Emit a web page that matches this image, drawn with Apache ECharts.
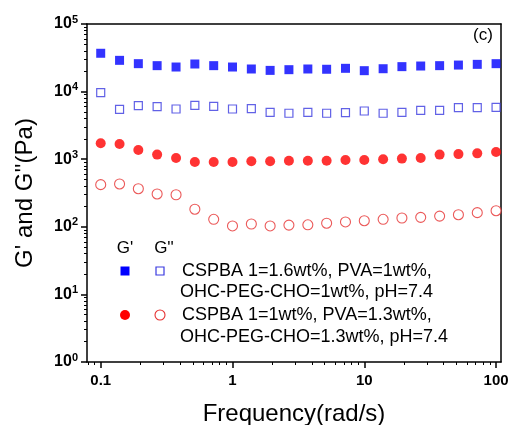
<!DOCTYPE html>
<html>
<head>
<meta charset="utf-8">
<script src="https://cdn.jsdelivr.net/npm/echarts@6/dist/echarts.min.js"></script>
<style>
  html, body { margin: 0; padding: 0; background: #fff; }
  #chart { width: 511px; height: 425px; }
</style>
</head>
<body>
<div id="chart"></div>
<script>
// frequency sweep, 7 points per decade
const freq = [0.1, 0.139, 0.193, 0.268, 0.373, 0.518, 0.72, 1, 1.39, 1.93, 2.68, 3.73, 5.18, 7.2, 10, 13.9, 19.3, 26.8, 37.3, 51.8, 72, 100];
// sample 1: CSPBA 1=1.6wt%
const s1Storage = [36900, 29000, 25900, 24200, 23100, 25600, 24200, 23100, 21600, 20600, 21100, 21600, 21400, 22100, 20400, 21800, 23400, 23900, 24200, 24700, 25300, 25900];
const s1Loss = [9640, 5470, 6190, 5980, 5530, 6270, 6060, 5530, 5590, 4940, 4780, 4940, 4780, 4870, 5160, 4780, 4940, 5290, 5290, 5780, 5780, 5860];
// sample 2: CSPBA 1=1wt%
const s2Storage = [1720, 1680, 1370, 1170, 1040, 910, 910, 910, 931, 931, 950, 950, 950, 973, 973, 997, 1020, 1040, 1170, 1190, 1220, 1280];
const s2Loss = [420, 430, 366, 306, 298, 182, 129, 103, 110, 103, 106, 107, 113, 118, 123, 129, 135, 138, 144, 151, 162, 173];

const xMajor = [0.1, 1, 10, 100];
const yMajor = [1, 10, 100, 1000, 10000, 100000];

// minor ticks 2..9 in each decade
function minorTicks(decades, lo, hi) {
  const out = [];
  decades.forEach(d => {
    for (let m = 2; m <= 9; m++) {
      const v = +(m * d).toPrecision(3);
      if (v > lo && v < hi) out.push(v);
    }
  });
  return out;
}
const xMin = 0.0787, xMax = 109;
const xMinor = minorTicks([0.01, 0.1, 1, 10, 100], xMin, xMax);
const yMinor = minorTicks([1, 10, 100, 1000, 10000], 1, 100000);

const FONT = '"Liberation Sans", Arial, sans-serif';
const black = '#000';

const chart = echarts.init(document.getElementById('chart'));

const toPairs = ys => freq.map((f, i) => [f, ys[i]]);

const option = {
  animation: false,
  backgroundColor: '#fff',
  grid: { left: 87, top: 24, right: 10, bottom: 63, containLabel: false, outerBoundsMode: 'none' },
  xAxis: [
    {
      type: 'log', position: 'bottom', min: xMin, max: xMax,
      name: 'Frequency(rad/s)', nameLocation: 'middle', nameGap: 40,
      nameTextStyle: { fontFamily: FONT, fontSize: 24, color: black },
      axisLine: { lineStyle: { color: black, width: 1.5 } },
      axisTick: { customValues: xMajor, length: 6, lineStyle: { color: black, width: 1.5 } },
      axisLabel: {
        customValues: xMajor, margin: 11, color: black,
        fontFamily: FONT, fontSize: 15, fontWeight: 'bold',
        formatter: v => String(v)
      },
      splitLine: { show: false }
    },
    {
      type: 'log', position: 'bottom', min: xMin, max: xMax,
      axisLine: { show: false },
      axisTick: { customValues: xMinor, length: 3, lineStyle: { color: black, width: 1 } },
      axisLabel: { show: false },
      splitLine: { show: false }
    },
    {
      type: 'log', position: 'top', min: xMin, max: xMax,
      axisLine: { lineStyle: { color: black, width: 1.5 } },
      axisTick: { show: false }, axisLabel: { show: false },
      splitLine: { show: false }
    }
  ],
  yAxis: [
    {
      type: 'log', position: 'left', min: 1, max: 100000,
      name: "G' and G''(Pa)", nameLocation: 'middle', nameGap: 50,
      nameTextStyle: { fontFamily: FONT, fontSize: 24, color: black },
      axisLine: { lineStyle: { color: black, width: 1.5 } },
      axisTick: { customValues: yMajor, length: 6, lineStyle: { color: black, width: 1.5 } },
      axisLabel: {
        customValues: yMajor, margin: 9, color: black,
        formatter: v => '{b|10}{s|' + Math.round(Math.log10(v)) + '}',
        rich: {
          b: { fontFamily: FONT, fontSize: 16, fontWeight: 'bold', color: black },
          s: { fontFamily: FONT, fontSize: 11, fontWeight: 'bold', color: black, padding: [0, 0, 9, 0] }
        }
      },
      splitLine: { show: false }
    },
    {
      type: 'log', position: 'left', min: 1, max: 100000,
      axisLine: { show: false },
      axisTick: { customValues: yMinor, length: 3, lineStyle: { color: black, width: 1 } },
      axisLabel: { show: false },
      splitLine: { show: false }
    },
    {
      type: 'log', position: 'right', min: 1, max: 100000,
      axisLine: { lineStyle: { color: black, width: 1.5 } },
      axisTick: { show: false }, axisLabel: { show: false },
      splitLine: { show: false }
    }
  ],
  series: [
    {
      name: "G' 1", type: 'scatter', symbol: 'rect', symbolSize: 9,
      itemStyle: { color: '#0000ff' }, data: toPairs(s1Storage)
    },
    {
      name: "G'' 1", type: 'scatter', symbol: 'rect', symbolSize: 8,
      itemStyle: { color: '#fff', borderColor: '#3a3ae0', borderWidth: 1.2 }, data: toPairs(s1Loss)
    },
    {
      name: "G' 2", type: 'scatter', symbol: 'circle', symbolSize: 10,
      itemStyle: { color: '#ff0000' }, data: toPairs(s2Storage)
    },
    {
      name: "G'' 2", type: 'scatter', symbol: 'circle', symbolSize: 10,
      itemStyle: { color: '#fff', borderColor: '#e63030', borderWidth: 1.1 }, data: toPairs(s2Loss)
    }
  ],
  graphic: [
    { type: 'text', left: 473, top: 27, style: { text: '(c)', fontFamily: FONT, fontSize: 17, fill: black } },
    // legend
    { type: 'text', x: 125, y: 248, style: { text: "G'", fontFamily: FONT, fontSize: 17, fill: black, align: 'center', verticalAlign: 'middle' } },
    { type: 'text', x: 164, y: 248, style: { text: "G''", fontFamily: FONT, fontSize: 17, fill: black, align: 'center', verticalAlign: 'middle' } },
    { type: 'rect', shape: { x: 120.5, y: 266.5, width: 9, height: 9 }, style: { fill: '#0000ff' } },
    { type: 'rect', shape: { x: 156, y: 267, width: 8, height: 8 }, style: { fill: '#fff', stroke: '#3a3ae0', lineWidth: 1.2 } },
    { type: 'circle', shape: { cx: 125, cy: 315, r: 5 }, style: { fill: '#ff0000' } },
    { type: 'circle', shape: { cx: 160, cy: 315, r: 5 }, style: { fill: '#fff', stroke: '#e63030', lineWidth: 1.1 } },
    { type: 'text', x: 182, y: 271, style: { text: 'CSPBA 1=1.6wt%, PVA=1wt%,', fontFamily: FONT, fontSize: 18, fill: black, verticalAlign: 'middle' } },
    { type: 'text', x: 180, y: 292, style: { text: 'OHC-PEG-CHO=1wt%, pH=7.4', fontFamily: FONT, fontSize: 18, fill: black, verticalAlign: 'middle' } },
    { type: 'text', x: 182, y: 315, style: { text: 'CSPBA 1=1wt%, PVA=1.3wt%,', fontFamily: FONT, fontSize: 18, fill: black, verticalAlign: 'middle' } },
    { type: 'text', x: 180, y: 337, style: { text: 'OHC-PEG-CHO=1.3wt%, pH=7.4', fontFamily: FONT, fontSize: 18, fill: black, verticalAlign: 'middle' } }
  ]
};

chart.setOption(option);
</script>
</body>
</html>
